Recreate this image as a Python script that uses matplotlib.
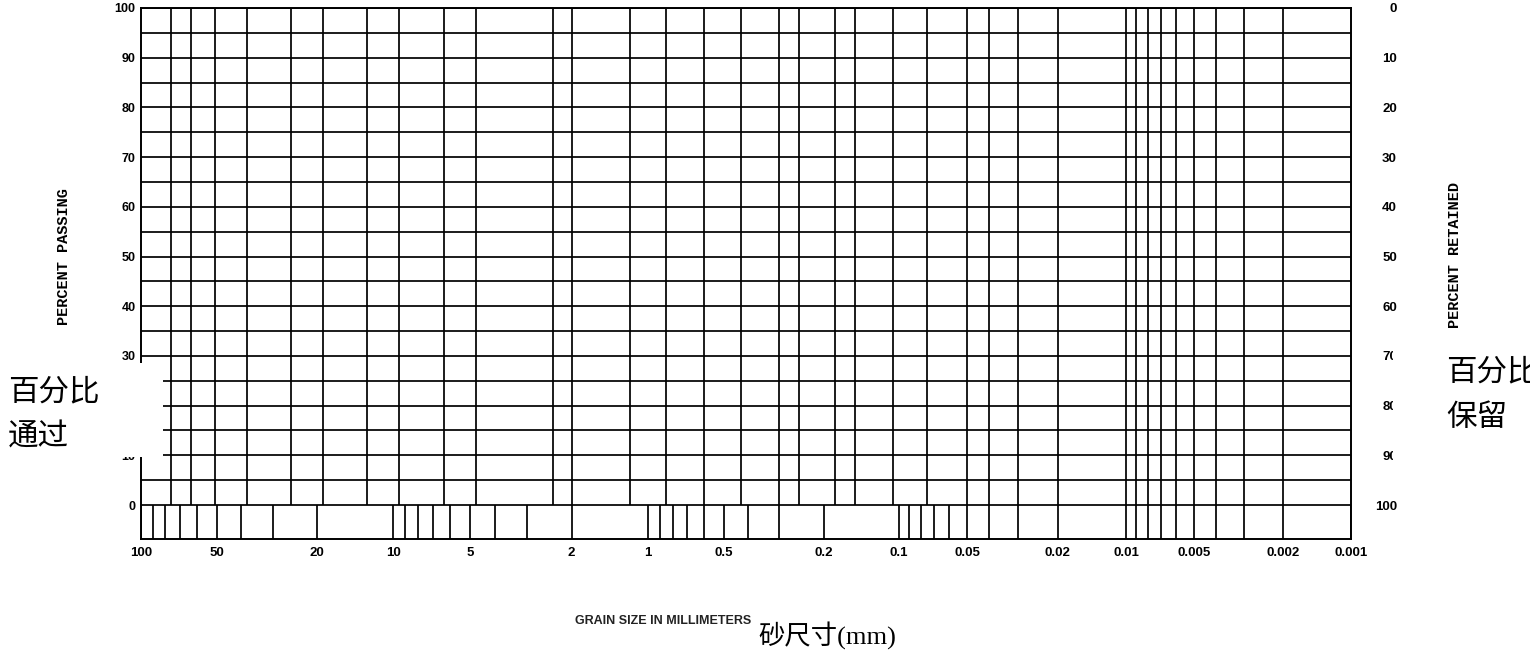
import numpy as np
import matplotlib
matplotlib.use("Agg")
import matplotlib.pyplot as plt
from matplotlib.patches import Rectangle
from matplotlib.ticker import NullLocator

# sieve openings in mm, full-height grid lines (3" ... #200)
sieve_mm = [76.2, 63.5, 50.8, 38.1, 25.4, 19.05, 12.7, 9.525, 6.35, 4.75,
            2.36, 2.0, 1.18, 0.85, 0.6, 0.425, 0.3, 0.25, 0.18, 0.15, 0.106, 0.075]
# hydrometer range grid lines
hydro_mm = [0.05, 0.04, 0.03, 0.02, 0.01, 0.009, 0.008, 0.007, 0.006,
            0.005, 0.004, 0.003, 0.002]
# short log ticks under the grid
scale_ticks = [100, 90, 80, 70, 60, 50, 40, 30, 20,
               10, 9, 8, 7, 6, 5, 4, 3, 2,
               1, 0.9, 0.8, 0.7, 0.6, 0.5, 0.4, 0.3, 0.2,
               0.1, 0.09, 0.08, 0.07, 0.06, 0.05, 0.04, 0.03, 0.02,
               0.01, 0.009, 0.008, 0.007, 0.006, 0.005, 0.004, 0.003, 0.002, 0.001]
x_label_vals = [100, 50, 20, 10, 5, 2, 1, 0.5, 0.2, 0.1, 0.05, 0.02, 0.01, 0.005, 0.002, 0.001]
x_label_txt = ["100", "50", "20", "10", "5", "2", "1", "0.5", "0.2", "0.1",
               "0.05", "0.02", "0.01", "0.005", "0.002", "0.001"]
pct_lines = [0, 5, 10, 15, 20, 25, 30, 35, 40, 45, 50, 55, 60, 65, 70, 75, 80, 85, 90, 95, 100]
pass_ticks = [0, 10, 20, 30, 40, 50, 60, 70, 80, 90, 100]
ret_ticks = [0, 10, 20, 30, 40, 50, 60, 70, 80, 90, 100]

# the printed chart does not have equal decades: anchor each decade
dec_log = [-12, -3, -2, -1, 0, 1, 2, 12]
dec_pos = [-2025.0, 0.0, 225.0, 452.0, 702.7, 957.7, 1210.0, 3733.0]


def fwd(x):
    x = np.clip(np.asarray(x, dtype=float), 1e-12, None)
    return np.interp(np.log10(x), dec_log, dec_pos)


def inv(p):
    return 10 ** np.interp(p, dec_pos, dec_log)


W, H = 1530, 655
fig = plt.figure(figsize=(W / 100, H / 100), dpi=100)
ax = fig.add_axes([141 / W, 1 - 539 / H, 1210 / W, 531 / H])
ax.set_xscale("function", functions=(fwd, inv))
ax.set_xlim(100, 0.001)
ymin = -6.84
ax.set_ylim(ymin, 100)

lw = 1.25
ax.hlines(pct_lines, 100, 0.001, color="black", lw=lw)
ax.vlines(sieve_mm + hydro_mm, 0, 100, color="black", lw=lw)
ax.vlines(scale_ticks, ymin, 0, color="black", lw=lw)
for s in ax.spines.values():
    s.set_linewidth(1.4)

tick_font = dict(family="Liberation Sans", weight="bold", size=9)
ax.set_xticks(x_label_vals)
ax.set_xticklabels(x_label_txt, fontdict=dict(tick_font, size=9.5))
ax.xaxis.set_minor_locator(NullLocator())
ax.tick_params(axis="x", length=0, pad=6)
ax.set_yticks(pass_ticks)
ax.set_yticklabels([str(v) for v in pass_ticks], fontdict=tick_font)
ax.tick_params(axis="y", length=0, pad=4)

sec = ax.secondary_yaxis("right", functions=(lambda y: 100 - y, lambda y: 100 - y))
sec.set_yticks(ret_ticks)
sec.set_yticklabels([str(v) for v in ret_ticks], fontdict=dict(tick_font, size=9.5), ha="right")
sec.tick_params(length=0, pad=33)
sec.spines["right"].set_visible(False)


def ftext(x, y, s, **kw):
    return fig.text(x / W, 1 - y / H, s, **kw)


mono = dict(family="Liberation Mono", weight="bold", size=11, rotation=90,
            ha="center", va="center")
ftext(64, 257, "PERCENT PASSING", **mono)
ftext(1455, 255, "PERCENT RETAINED", **mono)
ftext(663, 621, "GRAIN SIZE IN MILLIMETERS", family=["Liberation Sans Narrow", "Liberation Sans"],
      weight="bold", size=9, ha="center", va="center", color="#222222")

# white label patches pasted over the chart
for x0, y0, x1, y1 in [(0, 363, 163, 457), (1393, 345, W, 470)]:
    fig.patches.append(Rectangle((x0 / W, 1 - y1 / H), (x1 - x0) / W, (y1 - y0) / H,
                                 transform=fig.transFigure, facecolor="white",
                                 edgecolor="none", zorder=10))

cjk = dict(family=["Liberation Serif", "Noto Sans CJK SC"], va="center",
           ha="left", zorder=11, weight="light")
ftext(8, 393, "百分比", size=22, **cjk)
ftext(8, 438, "通过", size=22, **cjk)
ftext(1446, 373, "百分比", size=22, **cjk)
ftext(1446, 418, "保留", size=22, **cjk)
ftext(758, 636, "砂尺寸(mm)", size=19, **cjk)

fig.savefig("out.png", dpi=100)
